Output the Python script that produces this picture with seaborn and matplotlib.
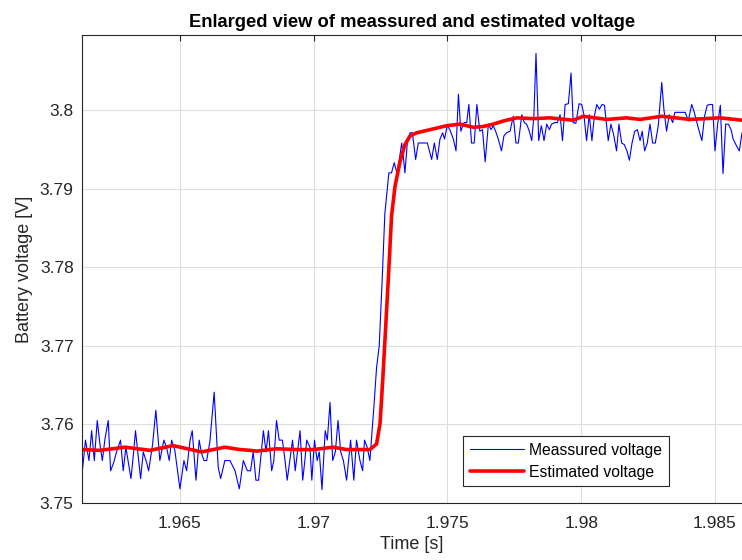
import matplotlib
matplotlib.use("Agg")
import matplotlib.pyplot as plt
import pandas as pd
import seaborn as sns

# Measured battery voltage (noisy sensor samples)
meas_t = [
    1.96133, 1.96147, 1.96160, 1.96170, 1.96180, 1.96191, 1.96201, 1.96210, 1.96220, 1.96232,
    1.96241, 1.96253, 1.96263, 1.96278, 1.96288, 1.96298, 1.96317, 1.96326, 1.96334, 1.96353,
    1.96363, 1.96375, 1.96383, 1.96398, 1.96410, 1.96425, 1.96440, 1.96450, 1.96460, 1.96469,
    1.96481, 1.96500, 1.96515, 1.96525, 1.96538, 1.96546, 1.96560, 1.96572, 1.96581, 1.96590,
    1.96600, 1.96612, 1.96628, 1.96643, 1.96652, 1.96668, 1.96687, 1.96706, 1.96722,
    1.96737, 1.96752, 1.96764, 1.96774, 1.96784, 1.96794, 1.96812, 1.96822, 1.96831, 1.96843,
    1.96851, 1.96861, 1.96871, 1.96883, 1.96893, 1.96901, 1.96911, 1.96921, 1.96931, 1.96949,
    1.96959, 1.96967, 1.96974, 1.96986, 1.96993, 1.97003, 1.97013, 1.97021, 1.97031, 1.97043,
    1.97051, 1.97061, 1.97071, 1.97081, 1.97091, 1.97101, 1.97111, 1.97123, 1.97138, 1.97150,
    1.97160, 1.97173, 1.97183, 1.97190, 1.97200, 1.97210, 1.97225,
    1.97235, 1.97245, 1.97256, 1.97266,
    1.97281, 1.97291, 1.97301, 1.97311, 1.97320, 1.97329, 1.97335, 1.97341, 1.97350, 1.97360,
    1.97369, 1.97381, 1.97391, 1.97403, 1.97425, 1.97441, 1.97451, 1.97462, 1.97472, 1.97482,
    1.97489, 1.97499, 1.97509, 1.97522, 1.97532, 1.97541, 1.97550, 1.97562, 1.97572, 1.97580,
    1.97590, 1.97600, 1.97610, 1.97621, 1.97631, 1.97641, 1.97653, 1.97663, 1.97671, 1.97680,
    1.97690, 1.97702, 1.97711, 1.97721, 1.97734, 1.97746, 1.97756, 1.97765, 1.97778, 1.97787,
    1.97796, 1.97806, 1.97815, 1.97823, 1.97831, 1.97841, 1.97851, 1.97861, 1.97871, 1.97881,
    1.97889, 1.97902, 1.97911, 1.97921, 1.97930, 1.97940, 1.97952, 1.97962, 1.97970, 1.97980,
    1.97992, 1.98002, 1.98010, 1.98020, 1.98030, 1.98040, 1.98049, 1.98058, 1.98068, 1.98078,
    1.98087, 1.98101, 1.98111, 1.98121, 1.98132, 1.98141, 1.98151, 1.98161, 1.98171, 1.98180,
    1.98190, 1.98200, 1.98210, 1.98220, 1.98228, 1.98237, 1.98247, 1.98257, 1.98267, 1.98277,
    1.98288, 1.98301, 1.98309, 1.98319, 1.98329, 1.98342, 1.98350, 1.98369, 1.98389, 1.98400,
    1.98413, 1.98421, 1.98431, 1.98441, 1.98451, 1.98461, 1.98471, 1.98481, 1.98491, 1.98500,
    1.98510, 1.98520, 1.98530, 1.98540, 1.98550, 1.98560, 1.98568, 1.98581, 1.98591, 1.98601,
]
meas_v = [
    3.7533, 3.7580, 3.7554, 3.7592, 3.7554, 3.7605, 3.7575, 3.7554, 3.7582, 3.7605,
    3.7541, 3.7552, 3.7565, 3.7580, 3.7541, 3.7571, 3.7531, 3.7561, 3.7592, 3.7531,
    3.7565, 3.7552, 3.7541, 3.7575, 3.7618, 3.7554, 3.7580, 3.7571, 3.7554, 3.7580,
    3.7567, 3.7518, 3.7554, 3.7541, 3.7580, 3.7592, 3.7529, 3.7580, 3.7563, 3.7554,
    3.7554, 3.7578, 3.7641, 3.7546, 3.7531, 3.7554, 3.7554, 3.7541, 3.7518,
    3.7554, 3.7541, 3.7541, 3.7565, 3.7529, 3.7529, 3.7592, 3.7565, 3.7592, 3.7541,
    3.7554, 3.7605, 3.7580, 3.7580, 3.7554, 3.7529, 3.7554, 3.7580, 3.7541, 3.7592,
    3.7529, 3.7554, 3.7580, 3.7571, 3.7529, 3.7580, 3.7554, 3.7565, 3.7517, 3.7592,
    3.7580, 3.7628, 3.7554, 3.7565, 3.7605, 3.7565, 3.7554, 3.7529, 3.7580, 3.7529,
    3.7580, 3.7554, 3.7541, 3.7580, 3.7571, 3.7554, 3.7622,
    3.7672, 3.7700, 3.7784, 3.7868,
    3.7920, 3.7920, 3.7933, 3.7920, 3.7937, 3.7958, 3.7941, 3.7920, 3.7958, 3.7971,
    3.7971, 3.7937, 3.7958, 3.7958, 3.7958, 3.7937, 3.7958, 3.7937, 3.7963, 3.7971,
    3.7963, 3.7980, 3.7975, 3.7963, 3.7948, 3.8020, 3.7973, 3.7984, 3.7984, 3.8007,
    3.7958, 3.7958, 3.8007, 3.7973, 3.7975, 3.7934, 3.7982, 3.7975, 3.7980, 3.7973,
    3.7963, 3.7948, 3.7967, 3.7971, 3.7973, 3.7992, 3.7958, 3.7958, 3.7994, 3.7984,
    3.7982, 3.7973, 3.7961, 3.7992, 3.8072, 3.7961, 3.7980, 3.7961, 3.7982, 3.7975,
    3.7982, 3.7984, 3.7984, 3.7994, 3.7961, 3.8007, 3.8008, 3.8047, 3.7984, 3.7983,
    3.8008, 3.8007, 3.7994, 3.7961, 3.7994, 3.7961, 3.7992, 3.8007, 3.8001, 3.8007,
    3.8006, 3.7961, 3.7982, 3.7969, 3.7948, 3.7982, 3.7958, 3.7956, 3.7948, 3.7936,
    3.7958, 3.7973, 3.7975, 3.7961, 3.7973, 3.7948, 3.7958, 3.7982, 3.7958, 3.7958,
    3.7980, 3.8035, 3.8001, 3.7973, 3.7994, 3.7984, 3.7997, 3.7997, 3.7997, 3.7986,
    3.8007, 3.7999, 3.7986, 3.7973, 3.7961, 3.7992, 3.8006, 3.8007, 3.8007, 3.7948,
    3.7982, 3.8006, 3.7919, 3.7982, 3.7982, 3.7975, 3.7963, 3.7954, 3.7948, 3.7971,
]

# Estimated battery voltage (filter output)
est_t = [
    1.96133, 1.96200, 1.96295, 1.96388, 1.96475, 1.96581, 1.96668, 1.96724, 1.96762, 1.96787,
    1.96861, 1.96936, 1.96998, 1.97073, 1.97123, 1.97210, 1.97235, 1.97248, 1.97258, 1.97279,
    1.97291, 1.97304, 1.97322, 1.97341, 1.97360, 1.97385, 1.97435, 1.97497, 1.97547, 1.97597,
    1.97634, 1.97671, 1.97709, 1.97759, 1.97821, 1.97883, 1.97970, 1.98008, 1.98095, 1.98170,
    1.98220, 1.98301, 1.98406, 1.98519, 1.98601,
]
est_v = [
    3.7568, 3.7567, 3.7571, 3.7567, 3.7573, 3.7565, 3.7571, 3.7568, 3.7567, 3.7566,
    3.7569, 3.7568, 3.7568, 3.7571, 3.7568, 3.7568, 3.7575, 3.7601, 3.7656, 3.7785,
    3.7865, 3.7903, 3.7933, 3.7956, 3.7967, 3.7971, 3.7975, 3.7980, 3.7982, 3.7978,
    3.7979, 3.7982, 3.7986, 3.7990, 3.7989, 3.7990, 3.7987, 3.7992, 3.7988, 3.7990,
    3.7988, 3.7992, 3.7988, 3.7990, 3.7987,
]

x_ticks = [1.965, 1.97, 1.975, 1.98, 1.985]
x_tick_labels = ["1.965", "1.97", "1.975", "1.98", "1.985"]
y_ticks = [3.75, 3.76, 3.77, 3.78, 3.79, 3.80]
y_tick_labels = ["3.75", "3.76", "3.77", "3.78", "3.79", "3.8"]

sns.set_theme(style="white")
plt.rcParams["font.family"] = ["Liberation Sans", "DejaVu Sans"]

ink = "#262626"
meas_df = pd.DataFrame({"t": meas_t, "v": meas_v})
est_df = pd.DataFrame({"t": est_t, "v": est_v})

fig = plt.figure(figsize=(7.42, 5.6), dpi=100)
fig.patch.set_facecolor("white")
ax = fig.add_axes([82 / 742, 57 / 560, 660 / 742, 468 / 560])

sns.lineplot(data=meas_df, x="t", y="v", ax=ax, color="#0000ff", lw=0.8,
             estimator=None, sort=False, label="Meassured voltage")
sns.lineplot(data=est_df, x="t", y="v", ax=ax, color="#ff0000", lw=2.6,
             estimator=None, sort=False, label="Estimated voltage")

ax.set_xlim(1.96134, 1.98601)
ax.set_ylim(3.75, 3.80954)
ax.set_xticks(x_ticks)
ax.set_xticklabels(x_tick_labels)
ax.set_yticks(y_ticks)
ax.set_yticklabels(y_tick_labels)

ax.grid(True, color="#dedede", lw=0.8)
ax.set_axisbelow(True)
for side in ["left", "bottom", "top"]:
    ax.spines[side].set_color(ink)
    ax.spines[side].set_linewidth(0.8)
ax.spines["right"].set_visible(False)
ax.tick_params(axis="both", direction="in", length=4, width=0.8, color=ink,
               labelcolor=ink, labelsize=12.5, top=True, right=False)
ax.tick_params(axis="x", pad=9)
ax.tick_params(axis="y", pad=6)

ax.set_xlabel("Time [s]", fontsize=13, color=ink, labelpad=4)
ax.set_ylabel("Battery voltage [V]", fontsize=13, color=ink, labelpad=5)
ax.set_title("Enlarged view of meassured and estimated voltage",
             fontsize=13.2, fontweight="bold", color="black", pad=6)

leg = ax.legend(loc="lower right", bbox_to_anchor=(0.889, 0.036), borderaxespad=0,
                fontsize=11.3, handlelength=3.5, handletextpad=0.3,
                labelspacing=0.42, borderpad=0.42, fancybox=False, frameon=True)
leg.get_frame().set_edgecolor(ink)
leg.get_frame().set_linewidth(0.8)
leg.get_frame().set_alpha(1)
for txt in leg.get_texts():
    txt.set_color("black")

fig.savefig("out.png", dpi=100, facecolor="white")
